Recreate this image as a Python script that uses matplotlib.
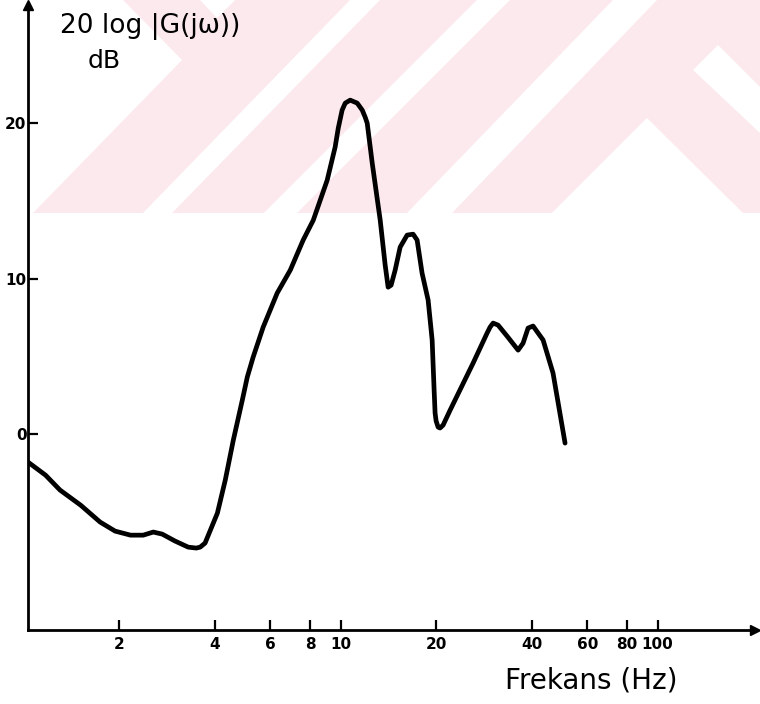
import matplotlib
matplotlib.use("Agg")
import matplotlib.pyplot as plt
from matplotlib.patches import Polygon

# Frekans (Hz) ve genlik (dB)
freq = [1.03, 1.17, 1.30, 1.51, 1.74, 1.94, 2.17, 2.38, 2.56, 2.73, 3.00, 3.30,
        3.50, 3.60, 3.73, 4.08, 4.32, 4.58, 4.89, 5.07, 5.29, 5.69, 6.30, 6.93,
        7.61, 8.19, 9.06, 9.60, 9.82, 10.10, 10.33, 10.71, 11.27, 11.69, 11.94,
        12.12, 12.57, 13.32, 13.81, 14.11, 14.42, 14.85, 15.40, 16.20, 16.92,
        17.42, 18.06, 18.87, 19.43, 19.71, 19.85, 20.00, 20.29, 20.58, 21.04,
        22.14, 26.17, 28.97, 29.60, 30.26, 31.38, 33.50, 36.29, 37.62, 39.02,
        40.46, 43.52, 46.78, 51.05]
gain_db = [-1.80, -2.64, -3.60, -4.57, -5.66, -6.24, -6.50, -6.50, -6.30, -6.43,
           -6.88, -7.27, -7.33, -7.27, -7.01, -5.08, -2.96, -0.39, 2.19, 3.67,
           4.95, 6.88, 9.07, 10.55, 12.48, 13.76, 16.33, 18.46, 19.68, 20.84,
           21.29, 21.48, 21.29, 20.84, 20.39, 20.00, 17.43, 13.76, 10.87, 9.45,
           9.58, 10.55, 12.03, 12.80, 12.86, 12.48, 10.35, 8.62, 6.05, 2.83,
           1.35, 0.84, 0.45, 0.39, 0.58, 1.54, 4.57, 6.50, 6.88, 7.14, 7.01,
           6.30, 5.40, 5.85, 6.82, 6.95, 6.05, 3.92, -0.58]

xticks = [2, 4, 6, 8, 10, 20, 40, 60, 80, 100]
yticks = [0, 10, 20]

W, H = 760, 704
fig = plt.figure(figsize=(W / 100, H / 100), dpi=100)


def px(x, y):
    return (x / W, 1 - y / H)


# arka plandaki soluk filigran
pink = "#fce9ed"
fig.patches.append(Polygon([px(0, 0), px(760, 0), px(760, 213), px(0, 213)],
                           closed=True, transform=fig.transFigure,
                           facecolor=pink, edgecolor="none", zorder=-2))
white_parts = [
    [(0, 0), (123, 0), (182, 60), (33, 213), (0, 213)],
    [(200, 0), (235, 0), (217, 18)],
    [(350, 0), (380, 0), (172, 213), (143, 213)],
    [(477, 0), (510, 0), (297, 213), (264, 213)],
    [(613, 0), (657, 0), (452, 213), (407, 213)],
    [(647, 118), (743, 213), (552, 213)],
    [(718, 45), (760, 87), (760, 133), (693, 70)],
]
for pts in white_parts:
    fig.patches.append(Polygon([px(a, b) for a, b in pts], closed=True,
                               transform=fig.transFigure, facecolor="white",
                               edgecolor="none", zorder=-1))

# eksenler: sol 28 px, sag 755 px, alt 630 px, ust 5 px
ax = fig.add_axes([28 / W, 1 - 630 / H, (755 - 28) / W, (630 - 5) / H])
ax.set_facecolor("none")
ax.set_xscale("log")
ax.set_xlim(1.03, 203)
ax.set_ylim(-12.6, 27.6)

ax.plot(freq, gain_db, color="black", lw=3.4, solid_joinstyle="round",
        solid_capstyle="round")

for s in ["top", "right"]:
    ax.spines[s].set_visible(False)
for s in ["left", "bottom"]:
    ax.spines[s].set_linewidth(2)
ax.plot(1, 0, ">k", transform=ax.transAxes, clip_on=False, markersize=7)
ax.plot(0, 1, "^k", transform=ax.transAxes, clip_on=False, markersize=7)

ax.set_xticks(xticks)
ax.set_xticklabels([str(t) for t in xticks])
ax.xaxis.set_minor_locator(matplotlib.ticker.NullLocator())
ax.set_yticks(yticks)
ax.tick_params(direction="in", length=7, width=1.6, labelsize=11, pad=5)
ax.tick_params(axis="y", pad=1)
for lab in ax.get_xticklabels() + ax.get_yticklabels():
    lab.set_fontweight("bold")

fig.text(60 / W, 1 - 26 / H, "20 log |G(jω))", fontsize=19, va="center", ha="left")
fig.text(104 / W, 1 - 61 / H, "dB", fontsize=18, va="center", ha="center")
fig.text(505 / W, 1 - 681 / H, "Frekans (Hz)", fontsize=20, va="center", ha="left")

fig.savefig("out.png", dpi=100)
